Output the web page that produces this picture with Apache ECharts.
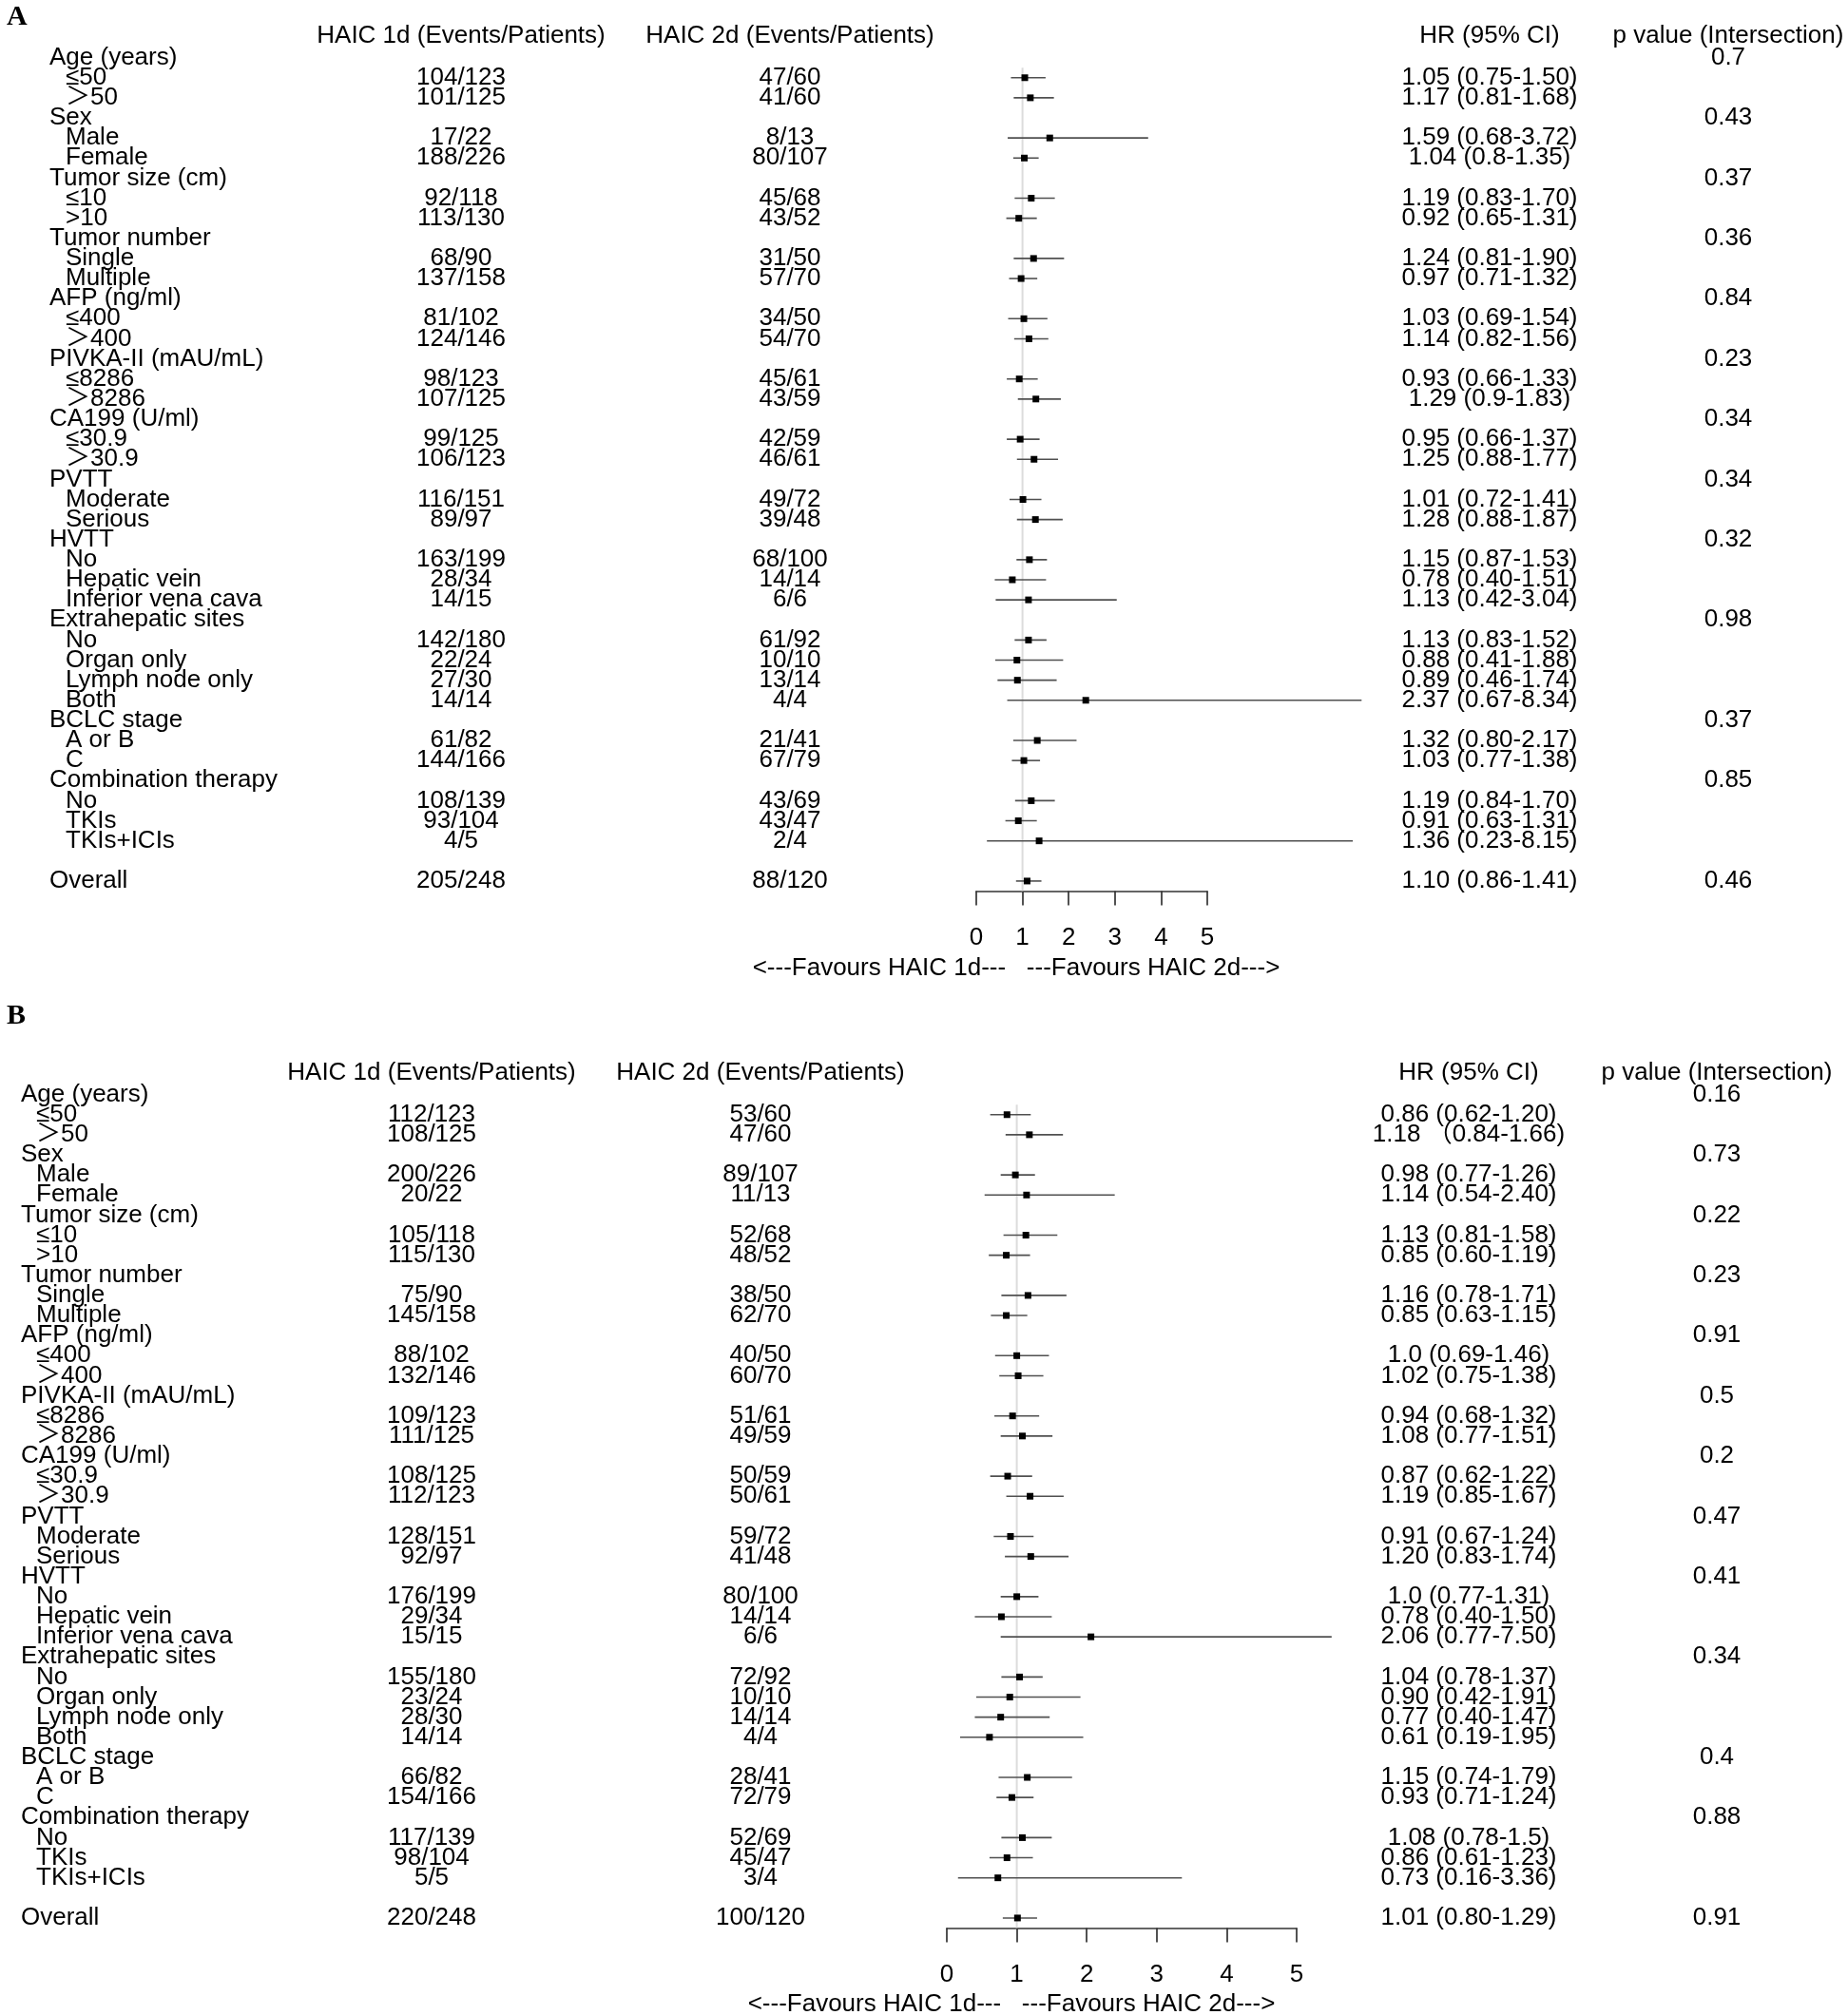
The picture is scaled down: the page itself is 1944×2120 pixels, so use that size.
<!DOCTYPE html>
<html>
<head>
<meta charset="utf-8">
<script src="https://cdn.jsdelivr.net/npm/echarts@6/dist/echarts.min.js"></script>
<style>
  html, body { margin: 0; padding: 0; background: #fff; }
  #chart { width: 1944px; height: 2120px; }
</style>
</head>
<body>
<div id="chart"></div>
<script>
// row labels (same for both panels)
const rowLabels = [
  'Age (years)', '≤50', '＞50',
  'Sex', 'Male', 'Female',
  'Tumor size (cm)', '≤10', '>10',
  'Tumor number', 'Single', 'Multiple',
  'AFP (ng/ml)', '≤400', '＞400',
  'PIVKA-II (mAU/mL)', '≤8286', '＞8286',
  'CA199 (U/ml)', '≤30.9', '＞30.9',
  'PVTT', 'Moderate', 'Serious',
  'HVTT', 'No', 'Hepatic vein', 'Inferior vena cava',
  'Extrahepatic sites', 'No', 'Organ only', 'Lymph node only', 'Both',
  'BCLC stage', 'A or B', 'C',
  'Combination therapy', 'No', 'TKIs', 'TKIs+ICIs',
  '', 'Overall'
];
// rows printed flush left; p values sit on these rows
const groupRows = [0, 3, 6, 9, 12, 15, 18, 21, 24, 28, 33, 36, 41];
// rows that carry counts and an estimate
const subgroupRows = [1, 2, 4, 5, 7, 8, 10, 11, 13, 14, 16, 17, 19, 20, 22, 23, 25, 26, 27, 29, 30, 31, 32, 34, 35, 37, 38, 39, 41];
const headers = ['HAIC 1d (Events/Patients)', 'HAIC 2d (Events/Patients)', 'HR (95% CI)', 'p value (Intersection)'];
const xTicks = [0, 1, 2, 3, 4, 5];

// panel A
const countsA1d = ['104/123','101/125','17/22','188/226','92/118','113/130','68/90','137/158','81/102','124/146','98/123','107/125','99/125','106/123','116/151','89/97','163/199','28/34','14/15','142/180','22/24','27/30','14/14','61/82','144/166','108/139','93/104','4/5','205/248'];
const countsA2d = ['47/60','41/60','8/13','80/107','45/68','43/52','31/50','57/70','34/50','54/70','45/61','43/59','42/59','46/61','49/72','39/48','68/100','14/14','6/6','61/92','10/10','13/14','4/4','21/41','67/79','43/69','43/47','2/4','88/120'];
const hrA = [1.05,1.17,1.59,1.04,1.19,0.92,1.24,0.97,1.03,1.14,0.93,1.29,0.95,1.25,1.01,1.28,1.15,0.78,1.13,1.13,0.88,0.89,2.37,1.32,1.03,1.19,0.91,1.36,1.10];
const loA = [0.75,0.81,0.68,0.8,0.83,0.65,0.81,0.71,0.69,0.82,0.66,0.9,0.66,0.88,0.72,0.88,0.87,0.40,0.42,0.83,0.41,0.46,0.67,0.80,0.77,0.84,0.63,0.23,0.86];
const hiA = [1.50,1.68,3.72,1.35,1.70,1.31,1.90,1.32,1.54,1.56,1.33,1.83,1.37,1.77,1.41,1.87,1.53,1.51,3.04,1.52,1.88,1.74,8.34,2.17,1.38,1.70,1.31,8.15,1.41];
const hrTextA = ['1.05 (0.75-1.50)','1.17 (0.81-1.68)','1.59 (0.68-3.72)','1.04 (0.8-1.35)','1.19 (0.83-1.70)','0.92 (0.65-1.31)','1.24 (0.81-1.90)','0.97 (0.71-1.32)','1.03 (0.69-1.54)','1.14 (0.82-1.56)','0.93 (0.66-1.33)','1.29 (0.9-1.83)','0.95 (0.66-1.37)','1.25 (0.88-1.77)','1.01 (0.72-1.41)','1.28 (0.88-1.87)','1.15 (0.87-1.53)','0.78 (0.40-1.51)','1.13 (0.42-3.04)','1.13 (0.83-1.52)','0.88 (0.41-1.88)','0.89 (0.46-1.74)','2.37 (0.67-8.34)','1.32 (0.80-2.17)','1.03 (0.77-1.38)','1.19 (0.84-1.70)','0.91 (0.63-1.31)','1.36 (0.23-8.15)','1.10 (0.86-1.41)'];
const pA = ['0.7','0.43','0.37','0.36','0.84','0.23','0.34','0.34','0.32','0.98','0.37','0.85','0.46'];

// panel B
const countsB1d = ['112/123','108/125','200/226','20/22','105/118','115/130','75/90','145/158','88/102','132/146','109/123','111/125','108/125','112/123','128/151','92/97','176/199','29/34','15/15','155/180','23/24','28/30','14/14','66/82','154/166','117/139','98/104','5/5','220/248'];
const countsB2d = ['53/60','47/60','89/107','11/13','52/68','48/52','38/50','62/70','40/50','60/70','51/61','49/59','50/59','50/61','59/72','41/48','80/100','14/14','6/6','72/92','10/10','14/14','4/4','28/41','72/79','52/69','45/47','3/4','100/120'];
const hrB = [0.86,1.18,0.98,1.14,1.13,0.85,1.16,0.85,1.0,1.02,0.94,1.08,0.87,1.19,0.91,1.20,1.0,0.78,2.06,1.04,0.90,0.77,0.61,1.15,0.93,1.08,0.86,0.73,1.01];
const loB = [0.62,0.84,0.77,0.54,0.81,0.60,0.78,0.63,0.69,0.75,0.68,0.77,0.62,0.85,0.67,0.83,0.77,0.40,0.77,0.78,0.42,0.40,0.19,0.74,0.71,0.78,0.61,0.16,0.80];
const hiB = [1.20,1.66,1.26,2.40,1.58,1.19,1.71,1.15,1.46,1.38,1.32,1.51,1.22,1.67,1.24,1.74,1.31,1.50,5.5,1.37,1.91,1.47,1.95,1.79,1.24,1.5,1.23,3.36,1.29];
const hrTextB = ['0.86 (0.62-1.20)','1.18 （0.84-1.66)','0.98 (0.77-1.26)','1.14 (0.54-2.40)','1.13 (0.81-1.58)','0.85 (0.60-1.19)','1.16 (0.78-1.71)','0.85 (0.63-1.15)','1.0 (0.69-1.46)','1.02 (0.75-1.38)','0.94 (0.68-1.32)','1.08 (0.77-1.51)','0.87 (0.62-1.22)','1.19 (0.85-1.67)','0.91 (0.67-1.24)','1.20 (0.83-1.74)','1.0 (0.77-1.31)','0.78 (0.40-1.50)','2.06 (0.77-7.50)','1.04 (0.78-1.37)','0.90 (0.42-1.91)','0.77 (0.40-1.47)','0.61 (0.19-1.95)','1.15 (0.74-1.79)','0.93 (0.71-1.24)','1.08 (0.78-1.5)','0.86 (0.61-1.23)','0.73 (0.16-3.36)','1.01 (0.80-1.29)'];
const pB = ['0.16','0.73','0.22','0.23','0.91','0.5','0.2','0.47','0.41','0.34','0.4','0.88','0.91'];

const FONT = '26px "Liberation Sans", Arial, "Noto Sans CJK SC", sans-serif';
const TEXT = '#000';

const panels = [
  { name: 'A', labelX: 52, indent: 17, col1d: 485, col2d: 831, colHR: 1567, colP: 1818,
    grid: { left: 1027, width: 243, top: 39.5, height: 898 },
    c1: countsA1d, c2: countsA2d, hr: hrA, lo: loA, hi: hiA, hrText: hrTextA, p: pA },
  { name: 'B', labelX: 22, indent: 16, col1d: 454, col2d: 800, colHR: 1545, colP: 1806,
    grid: { left: 996, width: 368, top: 1130.5, height: 898 },
    c1: countsB1d, c2: countsB2d, hr: hrB, lo: loB, hi: hiB, hrText: hrTextB, p: pB }
];

function txt(x, y, text, align) {
  return { type: 'text', style: { x: x, y: y, text: text, font: FONT, fill: TEXT, align: align, verticalAlign: 'middle' } };
}

let grids = [], xAxes = [], yAxes = [], series = [];

panels.forEach(function (pn, k) {
  grids.push(pn.grid);
  xAxes.push({
    gridIndex: k, type: 'value', position: 'bottom', min: 0, max: 5, interval: 1,
    axisLine: { show: true, onZero: false, lineStyle: { color: '#333', width: 1.7 } },
    axisTick: { show: true, inside: false, length: 15, lineStyle: { color: '#333', width: 1.7 } },
    axisLabel: { show: true, margin: 36, fontSize: 26, color: TEXT, fontFamily: 'Liberation Sans',
      formatter: function (v) { return xTicks.indexOf(v) >= 0 ? String(v) : ''; } },
    splitLine: { show: false }
  });
  yAxes.push({ gridIndex: k, type: 'value', inverse: true, min: -1, max: 41.5, show: false });

  // reference line at HR = 1
  series.push({
    type: 'custom', xAxisIndex: k, yAxisIndex: k, clip: false, silent: true, z: 1,
    data: [[1, 0.5, 41.5]],
    renderItem: function (params, api) {
      const a = api.coord([api.value(0), api.value(1)]);
      const b = api.coord([api.value(0), api.value(2)]);
      return { type: 'line', shape: { x1: a[0], y1: a[1], x2: b[0], y2: b[1] },
        style: { stroke: '#dcdcdc', lineWidth: 2 } };
    }
  });

  // header row
  series.push({
    type: 'custom', xAxisIndex: k, yAxisIndex: k, clip: false, silent: true, z: 3,
    data: [[0, -1]],
    renderItem: function (params, api) {
      const y = api.coord([0, api.value(1)])[1] - 2;
      return { type: 'group', children: [
        txt(pn.col1d, y, headers[0], 'center'),
        txt(pn.col2d, y, headers[1], 'center'),
        txt(pn.colHR, y, headers[2], 'center'),
        txt(pn.colP, y, headers[3], 'center')
      ] };
    }
  });

  // row labels
  series.push({
    type: 'custom', xAxisIndex: k, yAxisIndex: k, clip: false, silent: true, z: 3,
    data: rowLabels.map(function (l, i) { return [0, i]; }),
    renderItem: function (params, api) {
      const i = params.dataIndex;
      const y = api.coord([0, api.value(1)])[1];
      const x = groupRows.indexOf(i) >= 0 ? pn.labelX : pn.labelX + pn.indent;
      return txt(x, y, rowLabels[i], 'left');
    }
  });

  // p values
  series.push({
    type: 'custom', xAxisIndex: k, yAxisIndex: k, clip: false, silent: true, z: 3,
    data: groupRows.map(function (r) { return [0, r]; }),
    renderItem: function (params, api) {
      const y = api.coord([0, api.value(1)])[1];
      return txt(pn.colP, y, pn.p[params.dataIndex], 'center');
    }
  });

  // subgroup rows: counts, HR text, CI line and square
  series.push({
    type: 'custom', xAxisIndex: k, yAxisIndex: k, clip: false, silent: true, z: 4,
    data: subgroupRows.map(function (r, j) { return [pn.hr[j], r, pn.lo[j], pn.hi[j]]; }),
    renderItem: function (params, api) {
      const j = params.dataIndex;
      const row = api.value(1);
      const c = api.coord([api.value(0), row]);
      const lo = api.coord([api.value(2), row]);
      const hi = api.coord([api.value(3), row]);
      const s = 7;
      return { type: 'group', children: [
        txt(pn.col1d, c[1], pn.c1[j], 'center'),
        txt(pn.col2d, c[1], pn.c2[j], 'center'),
        txt(pn.colHR, c[1], pn.hrText[j], 'center'),
        { type: 'line', shape: { x1: lo[0], y1: c[1], x2: hi[0], y2: c[1] },
          style: { stroke: '#505050', lineWidth: 1.6 } },
        { type: 'rect', shape: { x: c[0] - s / 2, y: c[1] - s / 2, width: s, height: s },
          style: { fill: '#000' } }
      ] };
    }
  });
});

const favours = '<---Favours HAIC 1d---   ---Favours HAIC 2d--->';

let myChart = echarts.init(document.getElementById('chart'), null, { renderer: 'canvas' });
myChart.setOption({
  animation: false,
  backgroundColor: '#fff',
  grid: grids,
  xAxis: xAxes,
  yAxis: yAxes,
  series: series,
  graphic: [
    { type: 'text', x: 7, y: 18, style: { text: 'A', font: 'bold 30px "Liberation Serif", serif', fill: TEXT, verticalAlign: 'middle' } },
    { type: 'text', x: 7, y: 1069, style: { text: 'B', font: 'bold 30px "Liberation Serif", serif', fill: TEXT, verticalAlign: 'middle' } },
    { type: 'text', x: 1069, y: 1019, style: { text: favours, font: FONT, fill: TEXT, align: 'center', verticalAlign: 'middle' } },
    { type: 'text', x: 1064, y: 2109, style: { text: favours, font: FONT, fill: TEXT, align: 'center', verticalAlign: 'middle' } }
  ]
});

window.addEventListener('resize', function () {
  myChart.resize();
});
</script>
</body>
</html>
